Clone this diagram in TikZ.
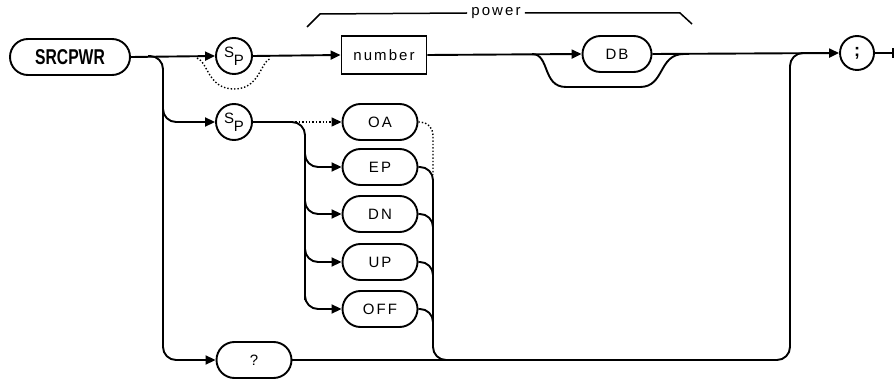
\documentclass[tikz,border=0pt]{standalone}
\usepackage{fontspec}
\usepackage{graphicx}
\setmainfont{Liberation Sans}
\newfontfamily\lblfont[LetterSpace=14]{Liberation Sans}
\usetikzlibrary{shapes.misc,arrows.meta}
\newcommand\spsym{\raisebox{3.5pt}{S}\kern-0.5pt\raisebox{-4.5pt}{P}}
\begin{document}
\begin{tikzpicture}[x=1pt,y=-1pt,line width=1.9pt,
  lbl/.style={font=\lblfont\fontsize{15}{17}\selectfont},
  rbox/.style={draw,rounded rectangle,minimum height=36pt,inner sep=0pt,lbl},
  sqbox/.style={draw,rectangle,minimum height=38pt,inner sep=0pt,lbl},
  circ/.style={draw,circle,minimum size=36pt,inner sep=0pt,font=\fontsize{15}{15}\selectfont},
  arr/.style={-{Triangle[length=10pt,width=9pt]}},
  dotl/.style={dotted,line width=1.4pt},
  rc/.style={rounded corners=13pt}]
\useasboundingbox (0,0) rectangle (896,379);
% nodes
\node[rbox,minimum width=120pt,font=\bfseries\fontsize{16.5}{18}\selectfont] (src) at (70,57) {\scalebox{0.95}[1.3]{SRCPWR}};
\node[circ] (sp1) at (234,56) {\spsym};
\node[sqbox,minimum width=85pt] (num) at (384,55) {number};
\node[rbox,minimum width=69pt] (db) at (617,54) {DB};
\node[circ,minimum size=34pt,font=\bfseries\fontsize{18}{18}\selectfont] (semi) at (857,53) {;};
\node[circ] (sp2) at (234,122) {\spsym};
\node[rbox,minimum width=75pt] (oa) at (380,122) {OA};
\node[rbox,minimum width=75pt] (ep) at (380,167) {EP};
\node[rbox,minimum width=75pt] (dn) at (380,214) {DN};
\node[rbox,minimum width=75pt] (up) at (380,262) {UP};
\node[rbox,minimum width=75pt] (off) at (380,309) {OFF};
\node[rbox,minimum width=75pt] (q) at (254,360) {?};
\node[lbl] (pw) at (496,13) {power};
\coordinate (endp) at (893,53);
% main line
\draw[arr] (src.east) -- (sp1.west);
\draw[dotl] (197,58) .. controls (208,62) and (208,89) .. (234,89) .. controls (260,89) and (260,62) .. (271,58);
\draw[arr] (sp1.east) -- (num.west);
\draw[arr] (num.east) -- (db.west);
\draw (532,54) .. controls (550,54) and (542,87) .. (566,87) -- (640,87) .. controls (665,87) and (658,54) .. (684,54);
\draw[arr] (db.east) -- (semi.west);
\draw (semi.east) -- (endp);
\draw[line width=1.4pt] ([yshift=-5pt]endp) -- ([yshift=5pt]endp);
% power brace
\draw[line width=1.5pt] (307,27) -- (320,14) -- (pw.west);
\draw[line width=1.5pt] (pw.east) -- (680,13) -- (692,24);
% left branch to ?
\draw[arr,rc] (148,56) -| (163,360) -- (q.west);
\draw[arr,rc] (163,100) |- (sp2.west);
% sp2 fan
\draw[rc] (sp2.east) -| (305,300);
\draw[dotl,arr] (292,122) -- (oa.west);
\draw[arr,rc] (305,140) |- (ep.west);
\draw[arr,rc] (305,190) |- (dn.west);
\draw[arr,rc] (305,240) |- (up.west);
\draw[arr,rc] (305,285) |- (off.west);
% right side of fan
\draw[dotl,rc] (oa.east) -| (433,175);
\draw[rc] (ep.east) -| (433,360) -- (790,360) -- (790,53) -- (808,53);
\draw[rc] (dn.east) -| (433,245);
\draw[rc] (up.east) -| (433,290);
\draw[rc] (off.east) -| (433,335);
\draw (q.east) -- (450,360);
\end{tikzpicture}
\end{document}
